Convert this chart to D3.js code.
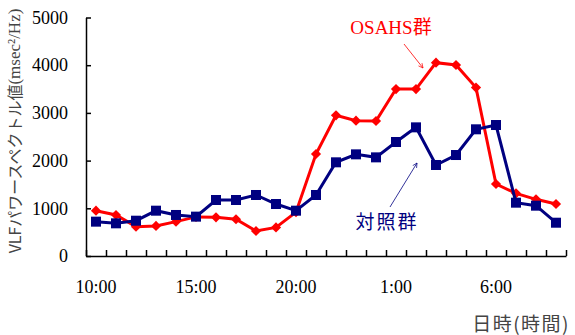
<!DOCTYPE html>
<html>
<head>
<meta charset="utf-8">
<script src="https://cdn.jsdelivr.net/npm/d3@7"></script>
<style>
  body { margin: 0; background: #fff; }
  svg { display: block; }
</style>
</head>
<body>
<div id="chart"></div>
<script>
// hourly categories, 10:00 .. 9:00 next day
const hours = ["10:00","11:00","12:00","13:00","14:00","15:00","16:00","17:00","18:00","19:00",
  "20:00","21:00","22:00","23:00","0:00","1:00","2:00","3:00","4:00","5:00","6:00","7:00","8:00","9:00"];
const xLabels = ["10:00","15:00","20:00","1:00","6:00"];
const yTicks = [0, 1000, 2000, 3000, 4000, 5000];

const osahs = [950, 860, 615, 630, 720, 820, 810, 770, 524, 600, 920, 2138,
  2950, 2836, 2830, 3500, 3500, 4053, 4004, 3530, 1509, 1314, 1188, 1090];
const control = [720, 685, 740, 950, 860, 825, 1174, 1174, 1279, 1090, 950, 1279,
  1964, 2131, 2068, 2390, 2697, 1908, 2117, 2656, 2746, 1118, 1055, 698];

const width = 575, height = 335;
const serif = "'Liberation Serif', 'Noto Sans CJK JP', serif";
const sans = "'Noto Sans CJK JP', 'Noto Sans', sans-serif";
const red = "#ff0000", navy = "#000080";

const svg = d3.select("#chart").append("svg")
  .attr("width", width)
  .attr("height", height);

const x = d3.scaleBand().domain(hours).range([86, 566]).padding(0);
const xEdge = d3.scaleLinear().domain([0, hours.length]).range([86, 566]);
const y = d3.scaleLinear().domain([0, 5000]).range([256, 17.5]);
const cx = d => x(d) + x.bandwidth() / 2;

// y axis, ticks pointing inwards
const yAxis = svg.append("g")
  .attr("transform", "translate(86,0)")
  .call(d3.axisLeft(y).tickValues(yTicks).tickFormat(d3.format("d"))
    .tickSizeInner(-5).tickSizeOuter(0).tickPadding(18));
yAxis.selectAll("text").style("font-family", serif).style("font-size", "18px").attr("fill", "#000");

// x axis tick marks between categories
svg.append("g")
  .attr("transform", "translate(0,256)")
  .call(d3.axisBottom(xEdge).tickValues(d3.range(hours.length + 1)).tickSizeInner(-6).tickSizeOuter(0).tickFormat(""));

// x labels centred on categories
const xLabAxis = svg.append("g")
  .attr("transform", "translate(0,256)")
  .call(d3.axisBottom(x).tickValues(xLabels).tickSize(0).tickPadding(24));
xLabAxis.select(".domain").remove();
xLabAxis.selectAll("text").style("font-family", serif).style("font-size", "18px").attr("fill", "#000");

svg.selectAll(".domain, .tick line").attr("stroke", "#000").attr("stroke-width", 1.5);

// axis titles
const yTitle = svg.append("text")
  .attr("transform", "translate(14,131) rotate(-90)")
  .attr("text-anchor", "middle")
  .attr("dominant-baseline", "central")
  .style("font-size", "16px")
  .attr("fill", "#444");
yTitle.append("tspan").style("font-family", sans).text("VLFパワースペクトル値");
yTitle.append("tspan").style("font-family", serif).style("font-size", "17px").text("(msec²/Hz)");

svg.append("text")
  .attr("x", 570)
  .attr("y", 331)
  .attr("text-anchor", "end")
  .style("font-family", sans)
  .style("font-size", "19px")
  .style("letter-spacing", "1.5px")
  .attr("fill", "#444")
  .text("日時(時間)");

const line = d3.line()
  .x((d, i) => cx(hours[i]))
  .y(d => y(d));

// OSAHS series
svg.append("path")
  .datum(osahs)
  .attr("fill", "none")
  .attr("stroke", red)
  .attr("stroke-width", 3)
  .attr("d", line);
svg.append("g").selectAll("path")
  .data(osahs)
  .join("path")
  .attr("transform", (d, i) => "translate(" + cx(hours[i]) + "," + y(d) + ") rotate(45)")
  .attr("d", d3.symbol(d3.symbolSquare, 52))
  .attr("fill", red);

// control series
svg.append("path")
  .datum(control)
  .attr("fill", "none")
  .attr("stroke", navy)
  .attr("stroke-width", 3)
  .attr("d", line);
svg.append("g").selectAll("rect")
  .data(control)
  .join("rect")
  .attr("x", (d, i) => cx(hours[i]) - 5)
  .attr("y", d => y(d) - 5)
  .attr("width", 10)
  .attr("height", 10)
  .attr("fill", navy);

// annotations
const defs = svg.append("defs");
[["arrRed", red], ["arrNavy", navy]].forEach(([id, c]) => {
  defs.append("marker")
    .attr("id", id)
    .attr("viewBox", "0 0 10 10")
    .attr("refX", 9).attr("refY", 5)
    .attr("markerWidth", 7).attr("markerHeight", 7)
    .attr("orient", "auto")
    .append("path")
    .attr("d", "M1,1 L9,5 L1,9")
    .attr("fill", "none")
    .attr("stroke", c)
    .attr("stroke-width", 1.2);
});

svg.append("text")
  .attr("x", 391).attr("y", 34)
  .attr("text-anchor", "middle")
  .style("font-family", serif)
  .style("font-size", "19px")
  .attr("fill", red)
  .text("OSAHS群");
svg.append("line")
  .attr("x1", 404).attr("y1", 44).attr("x2", 423).attr("y2", 68)
  .attr("stroke", red).attr("stroke-width", 0.8)
  .attr("marker-end", "url(#arrRed)");

svg.append("text")
  .attr("x", 387).attr("y", 229)
  .attr("text-anchor", "middle")
  .style("font-family", sans)
  .style("font-size", "19px")
  .style("letter-spacing", "2px")
  .attr("fill", navy)
  .text("対照群");
svg.append("line")
  .attr("x1", 390).attr("y1", 207).attr("x2", 417).attr("y2", 163)
  .attr("stroke", navy).attr("stroke-width", 0.8)
  .attr("marker-end", "url(#arrNavy)");
</script>
</body>
</html>
